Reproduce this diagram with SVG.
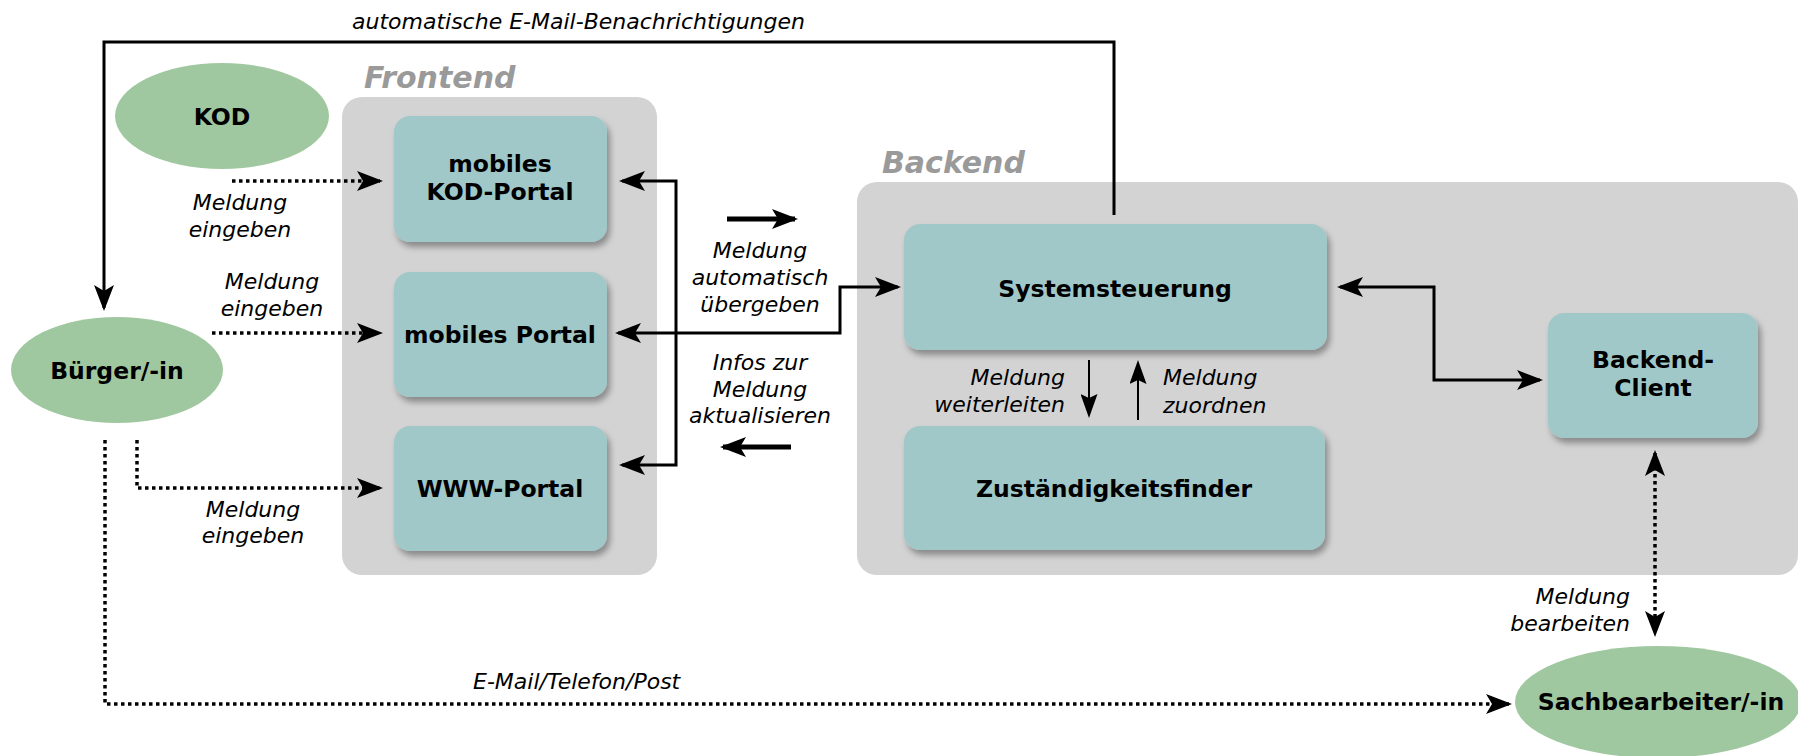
<svg xmlns="http://www.w3.org/2000/svg" width="1798" height="756" viewBox="0 0 1798 756">
<defs>
<style>
.cont{fill:#d3d3d3}
.clabel{font-family:"DejaVu Sans",sans-serif;font-weight:bold;font-style:italic;font-size:30px;fill:#9a9a9a}
.box{fill:#a1c8c8;filter:url(#sh)}
.ell{fill:#a0c8a0}
.nl{font-family:"DejaVu Sans",sans-serif;font-weight:bold;font-size:23.5px;fill:#000;text-anchor:middle}
.el{font-family:"DejaVu Sans",sans-serif;font-style:italic;font-size:22px;fill:#000}
.mid{text-anchor:middle}
.end{text-anchor:end}
.ln{fill:none;stroke:#000;stroke-width:3}
.thin{fill:none;stroke:#000;stroke-width:2}
.dot{fill:none;stroke:#000;stroke-width:3.5;stroke-dasharray:3.5 3.5}
.thick{fill:none;stroke:#000;stroke-width:5}
</style>
<filter id="sh" x="-10%" y="-10%" width="125%" height="130%">
<feDropShadow dx="3" dy="5" stdDeviation="3" flood-color="#000" flood-opacity="0.35"/>
</filter>
<marker id="ah" viewBox="0 0 26 20" refX="23" refY="10" markerWidth="26" markerHeight="20" markerUnits="userSpaceOnUse" orient="auto-start-reverse">
<path d="M0,0 L26,10 L0,20 L6,10 z" fill="#000"/>
</marker>
<marker id="as" viewBox="0 0 24 17" refX="21" refY="8.5" markerWidth="24" markerHeight="17" markerUnits="userSpaceOnUse" orient="auto-start-reverse">
<path d="M0,0 L24,8.5 L0,17 L4,8.5 z" fill="#000"/>
</marker>
</defs>
<rect width="1798" height="756" fill="#fff"/>

<g id="frontend">
<rect class="cont" x="342" y="97" width="315" height="478" rx="20"/>
<text class="clabel" x="364" y="88">Frontend</text>
</g>
<g id="backend">
<rect class="cont" x="857" y="182" width="941" height="393" rx="20"/>
<text class="clabel" x="882" y="173">Backend</text>
</g>

<g id="kod">
<ellipse class="ell" cx="222" cy="116" rx="107" ry="53"/>
<text class="nl" x="222" y="125">KOD</text>
</g>
<g id="buerger">
<ellipse class="ell" cx="117" cy="370" rx="106" ry="53"/>
<text class="nl" x="117" y="379">Bürger/-in</text>
</g>
<g id="sachbearbeiter">
<ellipse class="ell" cx="1658" cy="702" rx="143" ry="56"/>
<text class="nl" x="1661" y="710">Sachbearbeiter/-in</text>
</g>

<g id="kod-portal">
<rect class="box" x="394" y="116" width="213" height="126" rx="16"/>
<text class="nl" x="500" y="172">mobiles</text>
<text class="nl" x="500" y="200">KOD-Portal</text>
</g>
<g id="mobiles-portal">
<rect class="box" x="394" y="272" width="213" height="125" rx="16"/>
<text class="nl" x="500" y="343">mobiles Portal</text>
</g>
<g id="www-portal">
<rect class="box" x="394" y="426" width="213" height="125" rx="16"/>
<text class="nl" x="500" y="497">WWW-Portal</text>
</g>
<g id="systemsteuerung">
<rect class="box" x="904" y="224" width="423" height="126" rx="16"/>
<text class="nl" x="1115" y="297">Systemsteuerung</text>
</g>
<g id="zustaendigkeitsfinder">
<rect class="box" x="904" y="426" width="421" height="124" rx="16"/>
<text class="nl" x="1114" y="497">Zuständigkeitsfinder</text>
</g>
<g id="backend-client">
<rect class="box" x="1548" y="313" width="210" height="125" rx="16"/>
<text class="nl" x="1653" y="368">Backend-</text>
<text class="nl" x="1653" y="396">Client</text>
</g>

<g id="connectors">
<path class="ln" d="M1114,215 V42 H104 V308" marker-end="url(#ah)"/>
<path class="dot" d="M232,181 H380" marker-end="url(#ah)"/>
<path class="dot" d="M212,333 H380" marker-end="url(#ah)"/>
<path class="dot" d="M137,440 V488 H380" marker-end="url(#ah)"/>
<path class="dot" d="M105,440 V704 H1509" marker-end="url(#ah)"/>
<path class="ln" d="M622,181 H676 V465 H622" marker-start="url(#ah)" marker-end="url(#ah)"/>
<path class="ln" d="M618,333 H840 V287 H898" marker-start="url(#ah)" marker-end="url(#ah)"/>
<path class="ln" d="M1340,287 H1434 V380 H1540" marker-start="url(#ah)" marker-end="url(#ah)"/>
<path class="thin" d="M1089,360 V415" marker-end="url(#as)"/>
<path class="thin" d="M1138,420 V363" marker-end="url(#as)"/>
<path class="dot" d="M1655,453 V634" marker-start="url(#ah)" marker-end="url(#ah)"/>
<path class="thick" d="M727,219 H795" marker-end="url(#ah)"/>
<path class="thick" d="M791,447 H723" marker-end="url(#ah)"/>
</g>

<g id="labels">
<text class="el" x="352" y="29">automatische E-Mail-Benachrichtigungen</text>
<text class="el mid" x="240" y="210">Meldung</text>
<text class="el mid" x="240" y="237">eingeben</text>
<text class="el mid" x="272" y="289">Meldung</text>
<text class="el mid" x="272" y="316">eingeben</text>
<text class="el mid" x="253" y="517">Meldung</text>
<text class="el mid" x="253" y="543">eingeben</text>
<text class="el mid" x="760" y="258">Meldung</text>
<text class="el mid" x="760" y="285">automatisch</text>
<text class="el mid" x="760" y="312">übergeben</text>
<text class="el mid" x="760" y="370">Infos zur</text>
<text class="el mid" x="760" y="397">Meldung</text>
<text class="el mid" x="760" y="423">aktualisieren</text>
<text class="el end" x="1065" y="385">Meldung</text>
<text class="el end" x="1065" y="412">weiterleiten</text>
<text class="el" x="1163" y="385">Meldung</text>
<text class="el" x="1163" y="413">zuordnen</text>
<text class="el end" x="1630" y="604">Meldung</text>
<text class="el end" x="1630" y="631">bearbeiten</text>
<text class="el" x="473" y="689">E-Mail/Telefon/Post</text>
</g>
</svg>
